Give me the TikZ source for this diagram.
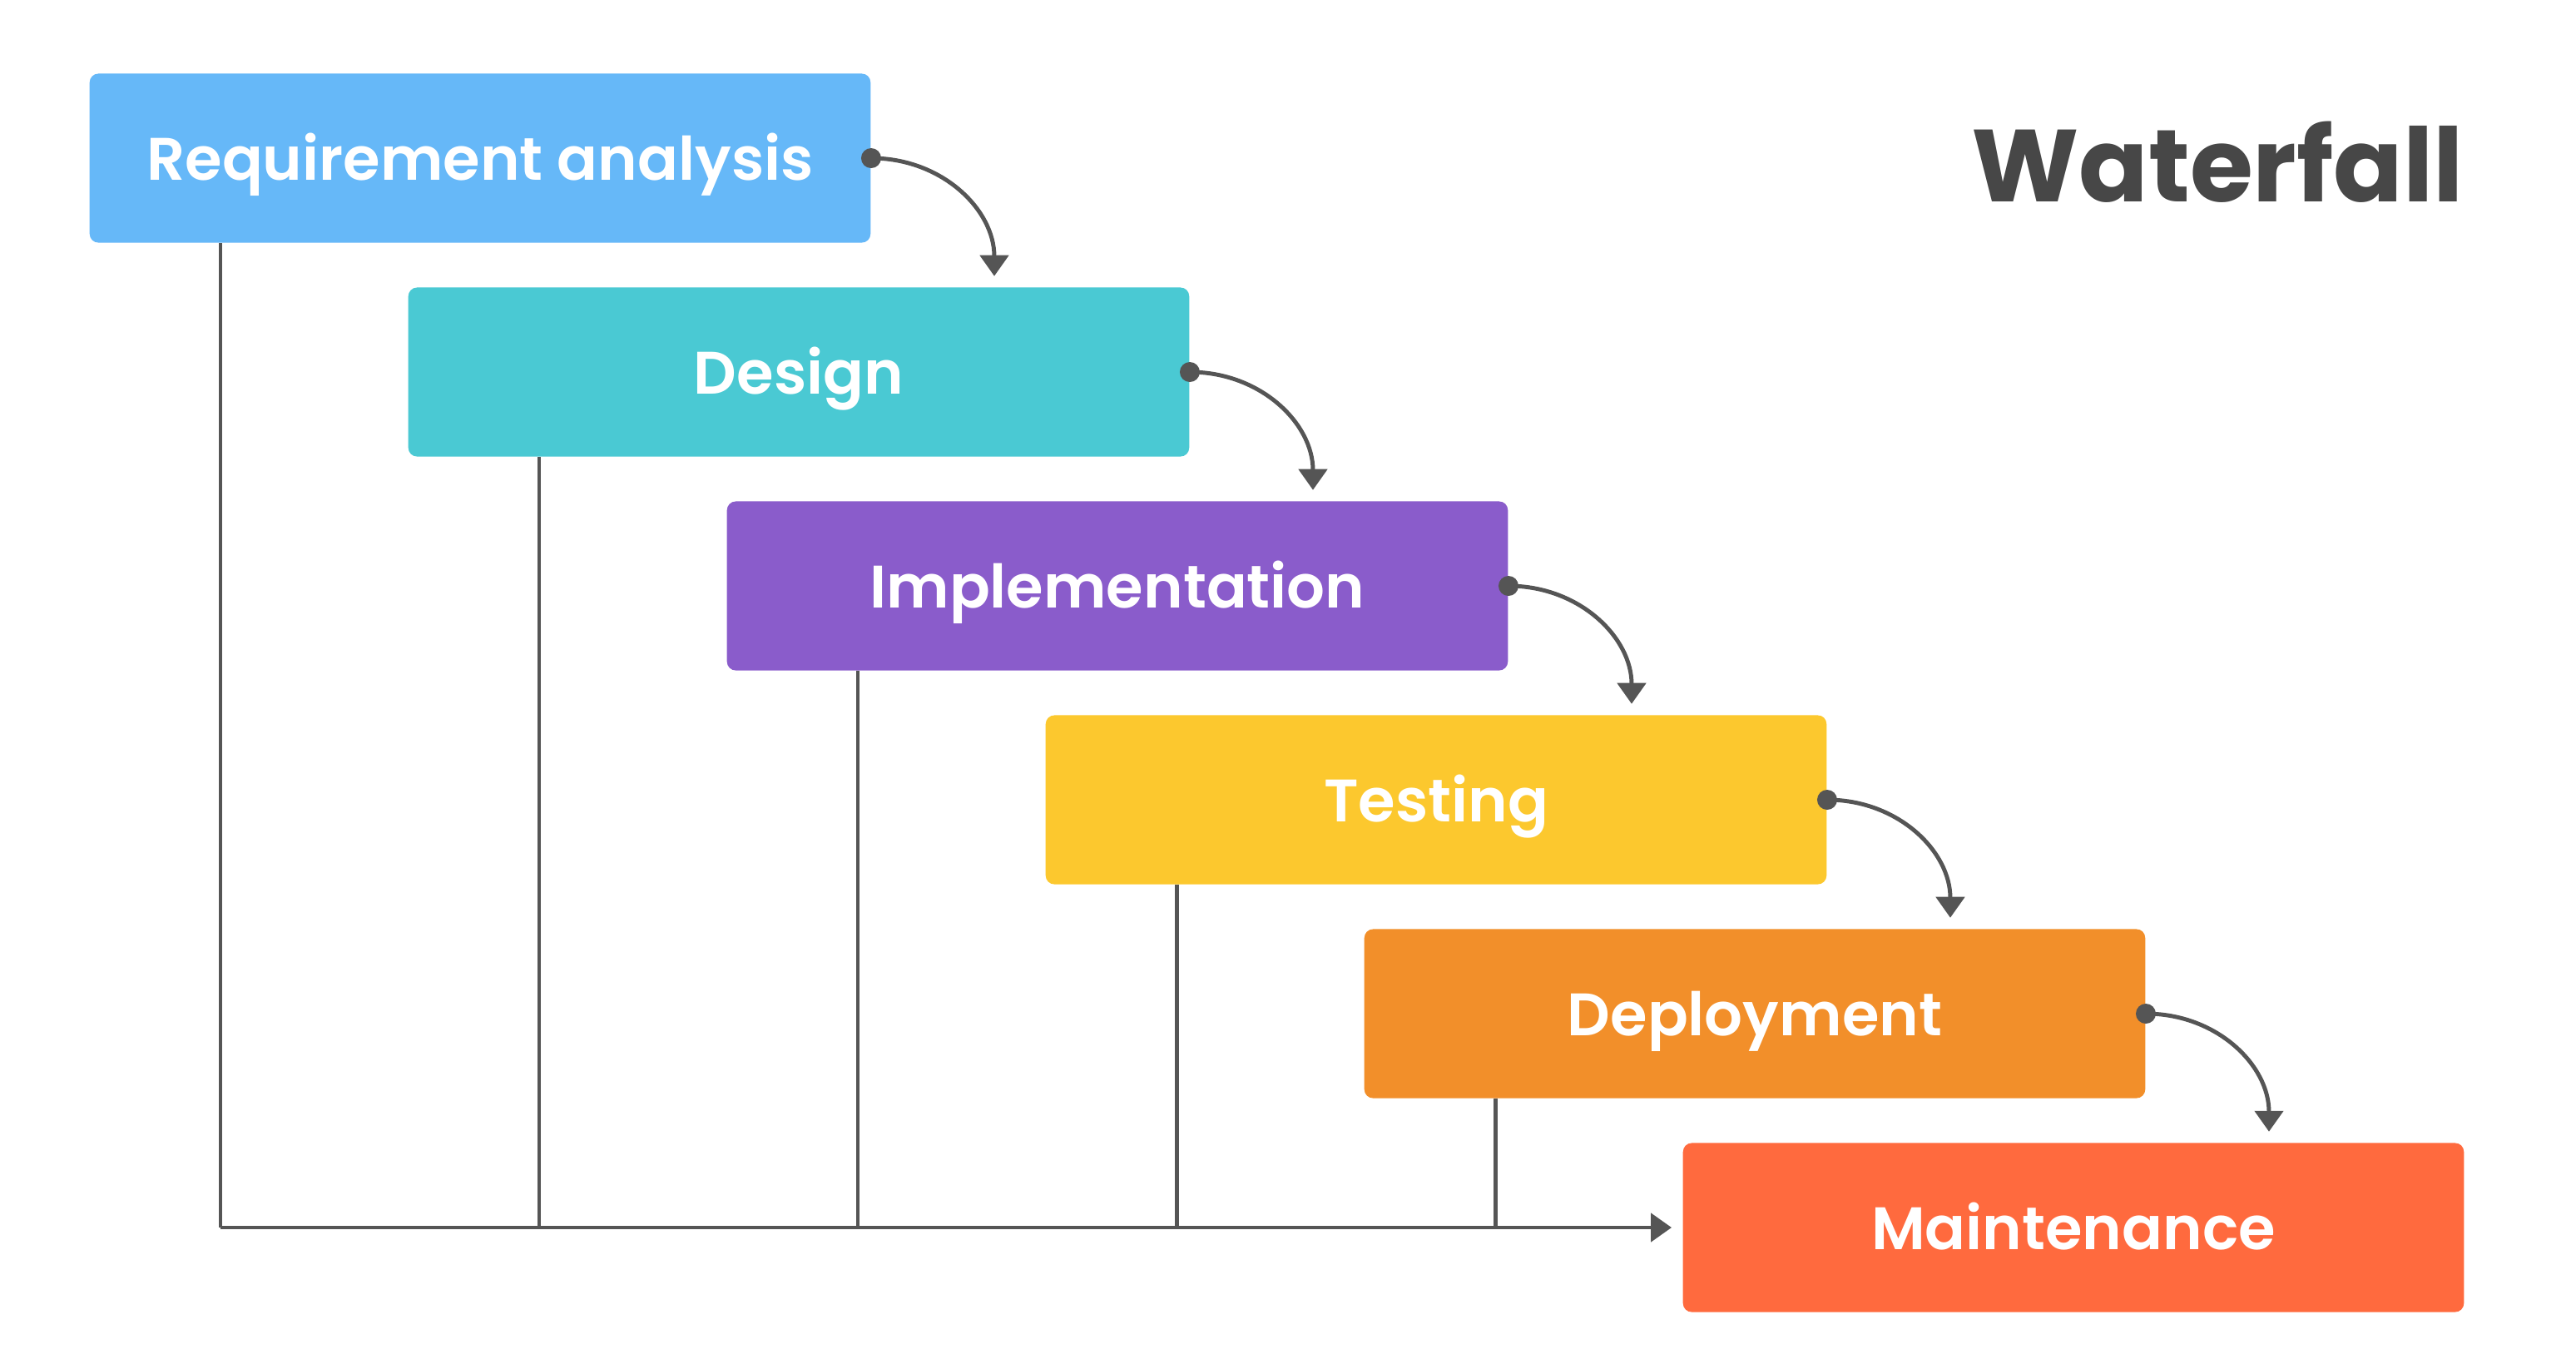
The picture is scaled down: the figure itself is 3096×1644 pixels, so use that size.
\documentclass[tikz,border=0pt]{standalone}
\usepackage{fontspec}
\setmainfont{Poppins}[BoldFont={Poppins SemiBold}]
\newfontfamily\titlefont{Poppins Bold}
\usepackage{xcolor}
\usepackage{tikz}
\usetikzlibrary{arrows.meta,positioning,calc}

\definecolor{reqblue}{HTML}{66B8F8}
\definecolor{desteal}{HTML}{4AC9D3}
\definecolor{imppurple}{HTML}{8A5CCB}
\definecolor{tstyellow}{HTML}{FCC82E}
\definecolor{deporange}{HTML}{F28F2A}
\definecolor{mntred}{HTML}{FF6A3E}
\definecolor{linegray}{HTML}{555555}
\definecolor{titlegray}{HTML}{474747}

\tikzset{
  phase/.style={rectangle,rounded corners=3pt,minimum width=9.38cm,minimum height=2.03cm,
    inner sep=0pt,text height=0.6cm,text depth=0.08cm,text=white,
    font=\bfseries\fontsize{20.5}{24}\selectfont},
  link/.style={draw=linegray,line width=1.4pt},
  tip/.style={-{Triangle[length=0.25cm,width=0.34cm]}}
}

\begin{document}
\begin{tikzpicture}[x=0.01cm,y=-0.01cm]
\useasboundingbox (0,0) rectangle (3096,1644);
\fill[white] (0,0) rectangle (3096,1644);
% the six phases, one step down and right each time
\foreach \n/\lab/\col [count=\i from 0] in {req/Requirement analysis/reqblue,des/Design/desteal,imp/Implementation/imppurple,tst/Testing/tstyellow,dep/Deployment/deporange,mnt/Maintenance/mntred}{
  \node[phase,fill=\col] (\n) at ({577+383*\i},{190+257*\i}) {\lab};
}
\node[font=\titlefont\fontsize{35}{42}\selectfont,text=titlegray] (ttl) at (2665,195) {Waterfall};
% curved hand-over arrows
\foreach \a/\b in {req/des,des/imp,imp/tst,tst/dep,dep/mnt}{
  \coordinate (\a-tip) at ($(\b.north)!0.5!(\b.north east)+(0,-13)$);
  \draw[link,tip] (\a.east) .. controls +(85,0) and +(0,-80) .. (\a-tip);
  \fill[linegray] (\a.east) circle (0.12cm);
}
% drops into the bottom line
\foreach \a in {req,des,imp,tst,dep}{
  \coordinate (\a-drop) at ($(\a.south west)+(158,0)$);
  \draw[link] (\a-drop) -- (\a-drop |- mnt.west);
}
\coordinate (hend) at ($(mnt.west)+(-13,0)$);
\draw[link,tip] (req-drop |- mnt.west) -- (hend);
\end{tikzpicture}
\end{document}
